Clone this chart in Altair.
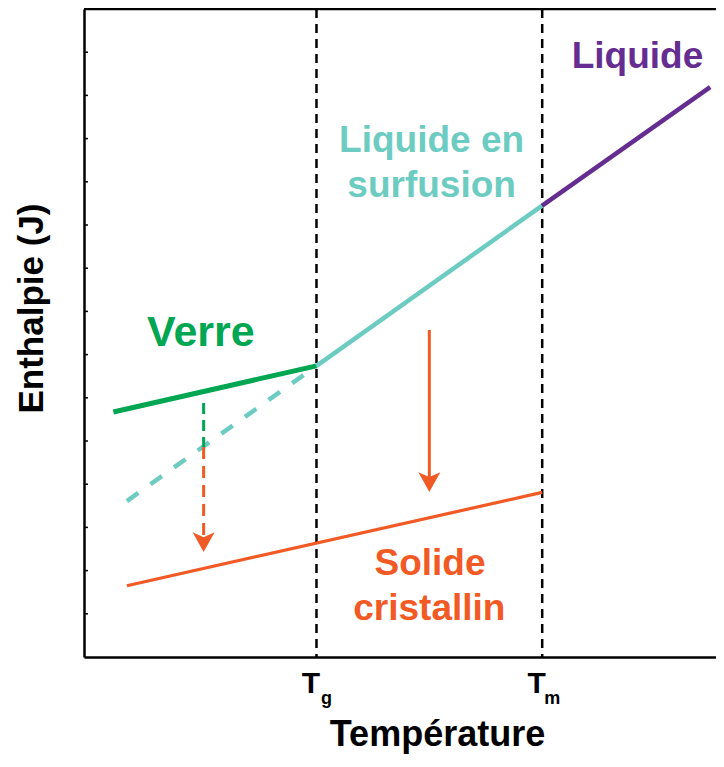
import altair as alt
import pandas as pd

FONT = "Liberation Sans"

# ---- data (arbitrary units) ----
T_g = 10.0
T_m = 20.0
temp_ticks = [T_g, T_m]
temp_subscripts = ["g", "m"]

verre_x = [1.0, 10.0]
verre_y = [5.67, 6.74]
surfusion_x = [10.0, 20.0]
surfusion_y = [6.74, 10.45]
liquide_x = [20.0, 27.44]
liquide_y = [10.45, 13.19]
surfusion_ext_x = [1.6, 10.0]
surfusion_ext_y = [3.61, 6.74]
solide_x = [1.6, 20.0]
solide_y = [1.65, 3.81]

relax_x = 5.0
relax_green_y = [5.88, 4.86]
relax_orange_y = [4.86, 2.75]
relax_head_y = 2.66
cryst_x = 15.0
cryst_y = [7.57, 4.15]
cryst_head_y = 4.05

y_ticks = list(range(1, 15))

phase_names = ["Verre", "Surfusion", "Liquide", "Solide"]
phase_colors = ["#00A651", "#6DCCC1", "#662D91", "#F15A24"]

label_text = ["Liquide en", "surfusion", "Liquide", "Solide", "cristallin"]
label_phase = ["Surfusion", "Surfusion", "Liquide", "Solide", "Solide"]
label_x = [15.1, 15.1, 24.22, 15.03, 15.0]
label_y = [11.69, 10.65, 13.63, 1.9, 0.86]
verre_label_x = [4.88]
verre_label_y = [7.2]

# ---- chart ----
W, H = 632, 648
xs = alt.Scale(domain=[-0.3, 27.7], nice=False, zero=False)
ys = alt.Scale(domain=[0, 15], nice=False, zero=False)

xaxis = alt.Axis(
    values=temp_ticks, labelExpr="'T'", ticks=False, tickSize=0, grid=False,
    domain=True, domainColor="black", domainWidth=2.5,
    labelFont=FONT, labelFontSize=30, labelFontWeight="bold", labelColor="black",
    labelBaseline="alphabetic", labelPadding=35, labelOffset=-6,
    title="Température", titleFont=FONT, titleFontSize=36, titleFontWeight="bold",
    titleColor="black", titleX=353, titleY=88, titleBaseline="alphabetic", titleAlign="center",
)
yaxis = alt.Axis(
    labels=False, ticks=False, grid=False, domain=True, domainColor="black", domainWidth=2.5,
    title="Enthalpie (J)", titleFont=FONT, titleFontSize=35, titleFontWeight="bold",
    titleColor="black", titleX=-42, titleY=299, titleBaseline="alphabetic", titleAlign="center",
)
X = alt.X("x:Q", scale=xs, axis=xaxis)
Y = alt.Y("y:Q", scale=ys, axis=yaxis)
C = alt.Color("phase:N", scale=alt.Scale(domain=phase_names, range=phase_colors), legend=None)


def seg(xv, yv, phase):
    return pd.DataFrame({"x": xv, "y": yv, "phase": phase})


ARROW = "M -1 -0.9 L 0 0.9 L 1 -0.9 L 0 -0.45 Z"

vlines = alt.Chart(pd.DataFrame({"x": temp_ticks})).mark_rule(
    color="black", strokeWidth=2.5, strokeDash=[9, 6]
).encode(x=X)

yticks = alt.Chart(pd.DataFrame({"y": y_ticks})).mark_rule(
    color="black", strokeWidth=1.5
).encode(y=Y, x=alt.value(0), x2=alt.value(4))

topline = alt.Chart(pd.DataFrame({"d": [0]})).mark_rule(
    color="black", strokeWidth=2.5
).encode(x=alt.value(0), x2=alt.value(W), y=alt.value(0))

verre = alt.Chart(seg(verre_x, verre_y, "Verre")).mark_line(strokeWidth=5).encode(x=X, y=Y, color=C)
surf = alt.Chart(seg(surfusion_x, surfusion_y, "Surfusion")).mark_line(strokeWidth=4.5).encode(x=X, y=Y, color=C)
liq = alt.Chart(seg(liquide_x, liquide_y, "Liquide")).mark_line(strokeWidth=4.5).encode(x=X, y=Y, color=C)
sol = alt.Chart(seg(solide_x, solide_y, "Solide")).mark_line(strokeWidth=3.2).encode(x=X, y=Y, color=C)
surf_ext = alt.Chart(seg(surfusion_ext_x, surfusion_ext_y, "Surfusion")).mark_line(
    strokeWidth=4.5, strokeDash=[14, 15]
).encode(x=X, y=Y, color=C)

relax_g = alt.Chart(seg([relax_x] * 2, relax_green_y, "Verre")).mark_line(
    strokeWidth=3, strokeDash=[11, 6]
).encode(x=X, y=Y, color=C)
relax_o = alt.Chart(seg([relax_x] * 2, relax_orange_y, "Solide")).mark_line(
    strokeWidth=3, strokeDash=[12, 7]
).encode(x=X, y=Y, color=C)
cryst = alt.Chart(seg([cryst_x] * 2, cryst_y, "Solide")).mark_line(strokeWidth=3).encode(x=X, y=Y, color=C)

heads = alt.Chart(seg([relax_x, cryst_x], [relax_head_y, cryst_head_y], "Solide")).mark_point(
    shape=ARROW, filled=True, size=484, opacity=1, strokeWidth=0
).encode(x=X, y=Y, color=C)

labels = alt.Chart(pd.DataFrame({"x": label_x, "y": label_y, "text": label_text, "phase": label_phase})).mark_text(
    font=FONT, fontSize=37, fontWeight="bold", align="center", baseline="alphabetic"
).encode(x=X, y=Y, text="text:N", color=C)

verre_lab = alt.Chart(pd.DataFrame({"x": verre_label_x, "y": verre_label_y, "text": ["Verre"], "phase": ["Verre"]})).mark_text(
    font=FONT, fontSize=43, fontWeight="bold", align="center", baseline="alphabetic"
).encode(x=X, y=Y, text="text:N", color=C)

subs = alt.Chart(pd.DataFrame({"x": temp_ticks, "sub": temp_subscripts})).mark_text(
    font=FONT, fontSize=18, fontWeight="bold", align="center", baseline="alphabetic", dx=10, color="black"
).encode(x=X, y=alt.value(H + 47), text="sub:N")

chart = alt.layer(
    vlines, yticks, topline, surf_ext, verre, surf, liq, sol,
    relax_g, relax_o, cryst, heads, labels, verre_lab, subs
).properties(
    width=W, height=H,
    padding={"left": 76, "top": 1, "right": 0, "bottom": 101},
    autosize=alt.AutoSizeParams(type="none"),
).configure_view(stroke=None)

chart.save("out.html", embed_options={"renderer": "svg", "actions": False})
